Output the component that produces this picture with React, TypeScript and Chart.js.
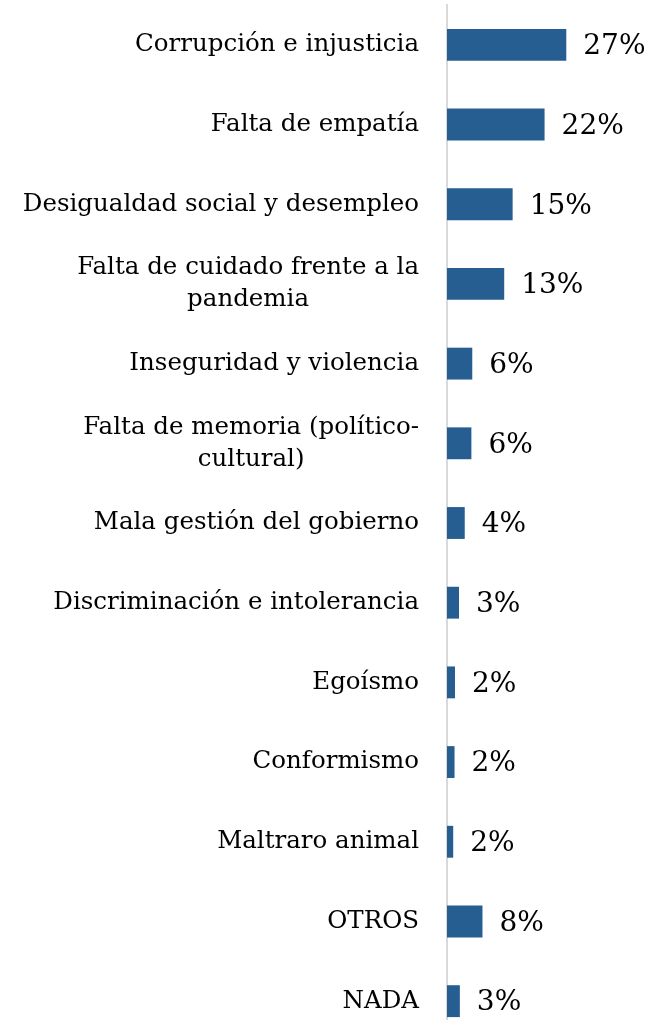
import React, { useEffect, useRef } from "react";
import { Chart, registerables } from "chart.js";

Chart.register(...registerables);

const categories: string[][] = [
  ["Corrupción e injusticia"],
  ["Falta de empatía"],
  ["Desigualdad social y desempleo"],
  ["Falta de cuidado frente a la", "pandemia"],
  ["Inseguridad y violencia"],
  ["Falta de memoria (político-", "cultural)"],
  ["Mala gestión del gobierno"],
  ["Discriminación e intolerancia"],
  ["Egoísmo"],
  ["Conformismo"],
  ["Maltraro animal"],
  ["OTROS"],
  ["NADA"],
];

const values: number[] = [26.9, 22, 14.8, 12.9, 5.7, 5.5, 4, 2.7, 1.8, 1.7, 1.4, 8, 2.9];

const valueLabels: string[] = ["27%", "22%", "15%", "13%", "6%", "6%", "4%", "3%", "2%", "2%", "2%", "8%", "3%"];

const xMax = 46;

const LABEL_FONT = '24.5px "DejaVu Serif", serif';
const VALUE_FONT = '28px "DejaVu Serif", serif';

const labelPlugin = {
  id: "customLabels",
  afterDraw(chart: any) {
    const ctx = chart.ctx;
    const yScale = chart.scales.y;
    const rightEdge = chart.chartArea.left - 28;
    const lineH = 32;
    ctx.save();
    ctx.fillStyle = "#000000";
    ctx.font = LABEL_FONT;
    ctx.textBaseline = "middle";
    categories.forEach((lines, i) => {
      const cy = yScale.getPixelForValue(i);
      const widths = lines.map((l) => ctx.measureText(l).width);
      const blockW = Math.max(...widths);
      const centerX = rightEdge - blockW / 2;
      const startY = cy - ((lines.length - 1) * lineH) / 2;
      ctx.textAlign = "center";
      lines.forEach((l, j) => {
        ctx.fillText(l, centerX, startY + j * lineH);
      });
    });
    ctx.font = VALUE_FONT;
    ctx.textAlign = "left";
    const meta = chart.getDatasetMeta(0);
    meta.data.forEach((bar: any, i: number) => {
      ctx.fillText(valueLabels[i], bar.x + 17, bar.y + 2);
    });
    ctx.restore();
  },
};

export default function App() {
  const canvasRef = useRef<HTMLCanvasElement | null>(null);

  useEffect(() => {
    document.body.style.margin = "0";
    document.body.style.overflow = "hidden";
    if (!canvasRef.current) return;
    const chart = new Chart(canvasRef.current, {
      type: "bar",
      data: {
        labels: categories.map((c) => c.join(" ")),
        datasets: [
          {
            data: values,
            backgroundColor: "#265E91",
            borderWidth: 0,
            barPercentage: 0.8,
            categoryPercentage: 0.5,
          },
        ],
      },
      options: {
        indexAxis: "y",
        animation: false,
        responsive: true,
        maintainAspectRatio: false,
        layout: { padding: { top: 5, left: 0, right: 0, bottom: 0 } },
        plugins: {
          legend: { display: false },
          tooltip: { enabled: false },
        },
        scales: {
          x: { display: false, min: 0, max: xMax },
          y: {
            ticks: { display: false },
            grid: { display: false, drawTicks: false },
            border: { display: true, color: "#d9d9d9", width: 2 },
            afterFit: (s: any) => {
              s.width = 447;
            },
          },
        },
      },
      plugins: [labelPlugin],
    });
    return () => chart.destroy();
  }, []);

  return (
    <div style={{ width: 651, height: 1020, overflow: "hidden", background: "#fff" }}>
      <div style={{ position: "relative", width: 651, height: 1041 }}>
        <canvas ref={canvasRef} />
      </div>
    </div>
  );
}
